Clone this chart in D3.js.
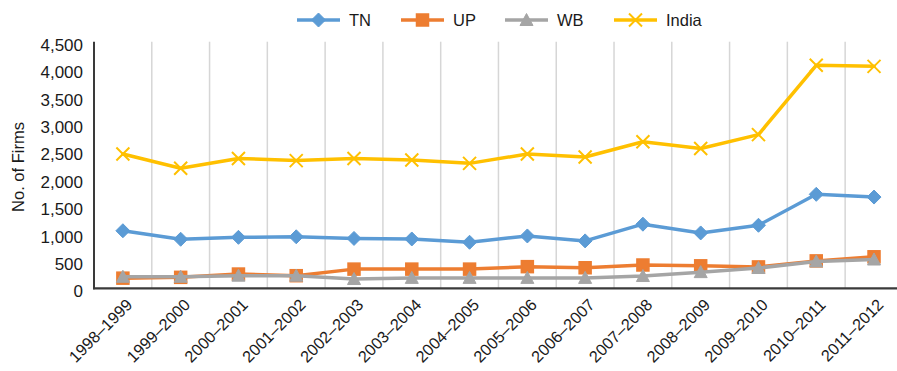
<!DOCTYPE html>
<html><head><meta charset="utf-8">
<script src="https://cdn.jsdelivr.net/npm/d3@7/dist/d3.min.js"></script>
<style>
body{margin:0;background:#fff;}
svg{display:block;font-family:"Liberation Sans",Arial,Helvetica,sans-serif;}
</style></head>
<body><svg id="c" width="897" height="371"></svg>
<script>
const categories = ["1998–1999","1999–2000","2000–2001","2001–2002","2002–2003","2003–2004","2004–2005","2005–2006","2006–2007","2007–2008","2008–2009","2009–2010","2010–2011","2011–2012"];
const seriesNames = ["TN","UP","WB","India"];
const tnValues    = [1050, 895, 930, 940, 910, 900, 840, 955, 865, 1170, 1010, 1150, 1715, 1665];
const upValues    = [185, 200, 260, 230, 350, 350, 350, 395, 375, 425, 410, 390, 500, 575];
const wbValues    = [210, 210, 230, 230, 170, 190, 190, 190, 190, 224, 295, 370, 490, 525];
const indiaValues = [2450, 2190, 2370, 2330, 2370, 2340, 2280, 2450, 2395, 2675, 2550, 2805, 4070, 4050];
const yTicks = [0,500,1000,1500,2000,2500,3000,3500,4000,4500];
const yTitle = "No. of Firms";

const series = [
  {name:seriesNames[0], values:tnValues, color:"#5B9BD5", marker:"diamond"},
  {name:seriesNames[1], values:upValues, color:"#ED7D31", marker:"square"},
  {name:seriesNames[2], values:wbValues, color:"#A5A5A5", marker:"triangle"},
  {name:seriesNames[3], values:indiaValues, color:"#FFC000", marker:"x"}
];

const svg = d3.select("#c");
const plotLeft = 94, plotTop = 41.7, plotBottom = 288.3, step = 57.78;
const x = d3.scaleBand().domain(categories).range([plotLeft, plotLeft + step*categories.length]);
const y = d3.scaleLinear().domain([0,4500]).range([plotBottom, plotTop]);
const cx = c => x(c) + x.bandwidth()/2;

// vertical gridlines
svg.append("g").selectAll("line").data(categories.slice(1)).join("line")
  .attr("x1", d=>x(d)).attr("x2", d=>x(d)).attr("y1", plotTop).attr("y2", plotBottom)
  .attr("stroke","#d6d6d6").attr("stroke-width",1.5);

// y axis
const ya = svg.append("g").attr("transform",`translate(${plotLeft},0)`)
  .call(d3.axisLeft(y).tickValues(yTicks).tickSize(0).tickPadding(11).tickFormat(d3.format(",")));
ya.select(".domain").remove();
ya.selectAll("text").attr("font-size",17).attr("fill","#1a1a1a").attr("dy","0.5em")
  .style("font-family","'Liberation Sans',Arial,sans-serif");

// x axis
const xa = svg.append("g").attr("transform",`translate(0,${plotBottom})`)
  .call(d3.axisBottom(x).tickSize(0).tickFormat(d=>d));
xa.select(".domain").remove();
xa.selectAll("text")
  .attr("font-size",16.3).attr("fill","#1a1a1a")
  .style("font-family","'Liberation Sans',Arial,sans-serif")
  .attr("text-anchor","end").attr("dy",0).attr("y",0)
  .attr("transform","translate(10.5,17.5) rotate(-45)");

// axis lines
svg.append("line").attr("x1",plotLeft).attr("x2",plotLeft).attr("y1",plotTop).attr("y2",plotBottom+1)
  .attr("stroke","#3a3a3a").attr("stroke-width",2);
svg.append("line").attr("x1",plotLeft-1).attr("x2",900).attr("y1",plotBottom).attr("y2",plotBottom)
  .attr("stroke","#3a3a3a").attr("stroke-width",2.2);

// y title
svg.append("text").attr("transform",`translate(23.5,167) rotate(-90)`)
  .attr("text-anchor","middle").attr("font-size",16.5).attr("fill","#1a1a1a").text(yTitle);

function drawMarker(g, type, color, px, py){
  if(type==="diamond"){
    g.append("path").attr("d",`M${px},${py-7}L${px+7},${py}L${px},${py+7}L${px-7},${py}Z`)
      .attr("fill",color).attr("stroke",color).attr("stroke-width",1);
  } else if(type==="square"){
    g.append("rect").attr("x",px-6).attr("y",py-6).attr("width",12).attr("height",12)
      .attr("fill",color).attr("stroke",color).attr("stroke-width",1.5);
  } else if(type==="triangle"){
    g.append("path").attr("d",`M${px},${py-6.5}L${px+6.5},${py+5.5}L${px-6.5},${py+5.5}Z`)
      .attr("fill",color).attr("stroke",color).attr("stroke-width",1);
  } else {
    g.append("path").attr("d",`M${px-6.5},${py-6.5}L${px+6.5},${py+6.5}M${px+6.5},${py-6.5}L${px-6.5},${py+6.5}`)
      .attr("stroke",color).attr("stroke-width",2).attr("fill","none");
  }
}

const line = d3.line().x(d=>cx(d.c)).y(d=>y(d.v));
series.forEach(s=>{
  const pts = categories.map((c,i)=>({c, v:s.values[i]}));
  const g = svg.append("g");
  g.append("path").datum(pts).attr("d",line).attr("fill","none")
    .attr("stroke",s.color).attr("stroke-width",3.5).attr("stroke-linejoin","round").attr("stroke-linecap","round");
  pts.forEach(p=>drawMarker(g, s.marker, s.color, cx(p.c), y(p.v)));
});

// legend
const legendX = [297, 401, 505, 614];
const lg = svg.append("g");
series.forEach((s,i)=>{
  const lx = legendX[i], ly = 20;
  lg.append("line").attr("x1",lx).attr("x2",lx+43).attr("y1",ly).attr("y2",ly)
    .attr("stroke",s.color).attr("stroke-width",3.5);
  drawMarker(lg, s.marker, s.color, lx+21.5, ly);
  lg.append("text").attr("x",lx+52).attr("y",ly).attr("dy","0.36em")
    .attr("font-size",16.5).attr("fill","#1a1a1a").text(s.name);
});
</script></body></html>
